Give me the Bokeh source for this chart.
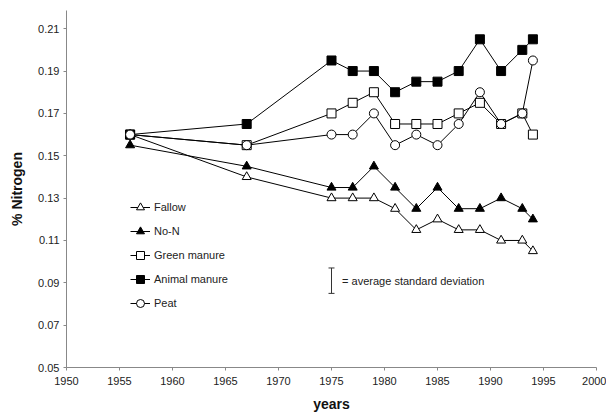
from bokeh.plotting import figure
from bokeh.models import Legend, LegendItem, Whisker, ColumnDataSource, FixedTicker, Label, TeeHead
from bokeh.embed import file_html
from bokeh.resources import INLINE

years = [1956, 1967, 1975, 1977, 1979, 1981, 1983, 1985, 1987, 1989, 1991, 1993, 1994]
fallow = [0.160, 0.140, 0.130, 0.130, 0.130, 0.125, 0.115, 0.120, 0.115, 0.115, 0.110, 0.110, 0.105]
no_n = [0.155, 0.145, 0.135, 0.135, 0.145, 0.135, 0.125, 0.135, 0.125, 0.125, 0.130, 0.125, 0.120]
green_manure = [0.160, 0.155, 0.170, 0.175, 0.180, 0.165, 0.165, 0.165, 0.170, 0.175, 0.165, 0.170, 0.160]
animal_manure = [0.160, 0.165, 0.195, 0.190, 0.190, 0.180, 0.185, 0.185, 0.190, 0.205, 0.190, 0.200, 0.205]
peat = [0.160, 0.155, 0.160, 0.160, 0.170, 0.155, 0.160, 0.155, 0.165, 0.180, 0.165, 0.170, 0.195]

x_ticks = [1950, 1955, 1960, 1965, 1970, 1975, 1980, 1985, 1990, 1995, 2000]
y_ticks = [0.05, 0.07, 0.09, 0.11, 0.13, 0.15, 0.17, 0.19, 0.21]

sd_year = [1975]
sd_center = [0.091]
sd_half = [0.006]

FONT = "Liberation Sans"

p = figure(width=606, height=414, output_backend="svg", toolbar_location=None,
           x_range=(1950, 2000), y_range=(0.05, 0.2186),
           min_border_left=66, min_border_right=10, min_border_top=10, min_border_bottom=46)
p.outline_line_color = None
p.grid.visible = False
p.background_fill_color = "white"

for ax in (p.xaxis, p.yaxis):
    ax.axis_line_color = "#888888"
    ax.axis_line_width = 1
    ax.major_tick_line_color = "#888888"
    ax.major_tick_out = 3
    ax.major_tick_in = 0
    ax.minor_tick_line_color = None
    ax.major_label_text_font = FONT
    ax.major_label_text_font_size = "11px"
    ax.major_label_text_color = "#222222"
    ax.axis_label_text_font = FONT
    ax.axis_label_text_font_size = "14px"
    ax.axis_label_text_font_style = "bold"
    ax.axis_label_text_color = "#111111"

p.xaxis.ticker = FixedTicker(ticks=x_ticks)
p.yaxis.ticker = FixedTicker(ticks=y_ticks)
p.yaxis.major_label_overrides = {t: f"{t:.2f}" for t in y_ticks}
p.xaxis.axis_label = "years"
p.yaxis.axis_label = "% Nitrogen"
p.xaxis.major_label_standoff = 6
p.xaxis.axis_label_standoff = 8
p.yaxis.major_label_standoff = 4
p.yaxis.axis_label_standoff = 10

series = [
    ("Fallow", fallow, "triangle", "white"),
    ("No-N", no_n, "triangle", "black"),
    ("Green manure", green_manure, "square", "white"),
    ("Animal manure", animal_manure, "square", "black"),
    ("Peat", peat, "circle", "white"),
]

items = []
for name, vals, marker, fill in series:
    src = ColumnDataSource(dict(x=years, y=vals))
    ln = p.line("x", "y", source=src, line_color="black", line_width=1)
    sc = p.scatter("x", "y", source=src, marker=marker, size=9,
                   fill_color=fill, line_color="black", line_width=1)
    items.append(LegendItem(label=name, renderers=[ln, sc]))

legend = Legend(items=items, location=(64, 52), padding=0, margin=0, spacing=0,
                glyph_width=20, glyph_height=24, label_height=24,
                label_standoff=4, border_line_color=None, background_fill_alpha=0,
                label_text_font=FONT, label_text_font_size="11px",
                label_text_color="#222222")
p.add_layout(legend)

sd_src = ColumnDataSource(dict(base=sd_year,
                               upper=[c + h for c, h in zip(sd_center, sd_half)],
                               lower=[c - h for c, h in zip(sd_center, sd_half)]))
wh = Whisker(source=sd_src, base="base", upper="upper", lower="lower",
             line_color="#333333", line_width=1,
             upper_head=TeeHead(size=6, line_color="#333333", line_width=1),
             lower_head=TeeHead(size=6, line_color="#333333", line_width=1))
p.add_layout(wh)
p.add_layout(Label(x=sd_year[0] + 1.0, y=sd_center[0], text="= average standard deviation",
                   text_font=FONT, text_font_size="11px", text_color="#222222",
                   text_baseline="middle"))

open("out.html", "w").write(file_html(p, INLINE))
